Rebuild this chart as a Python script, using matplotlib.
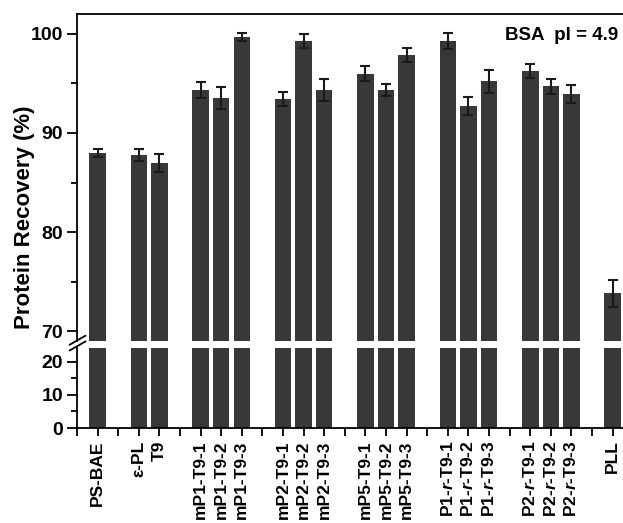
import matplotlib
matplotlib.use("Agg")
import matplotlib.pyplot as plt
import numpy as np

plt.rcParams['font.family'] = ['Liberation Sans', 'DejaVu Sans']
plt.rcParams['font.weight'] = 'bold'
plt.rcParams['mathtext.fontset'] = 'custom'
plt.rcParams['mathtext.it'] = 'Liberation Sans:italic:bold'

# samples, in groups (one empty slot between groups)
groups = [
    ['PS-BAE'],
    ['ε-PL', 'T9'],
    ['mP1-T9-1', 'mP1-T9-2', 'mP1-T9-3'],
    ['mP2-T9-1', 'mP2-T9-2', 'mP2-T9-3'],
    ['mP5-T9-1', 'mP5-T9-2', 'mP5-T9-3'],
    ['P1-$\\it{r}$-T9-1', 'P1-$\\it{r}$-T9-2', 'P1-$\\it{r}$-T9-3'],
    ['P2-$\\it{r}$-T9-1', 'P2-$\\it{r}$-T9-2', 'P2-$\\it{r}$-T9-3'],
    ['PLL'],
]
recovery = [88.0, 87.8, 87.0, 94.3, 93.5, 99.7, 93.4, 99.3, 94.3,
            96.0, 94.3, 97.9, 99.3, 92.7, 95.2, 96.3, 94.7, 93.9, 73.8]
errors = [0.4, 0.6, 0.9, 0.8, 1.1, 0.4, 0.7, 0.7, 1.1,
          0.8, 0.6, 0.7, 0.8, 0.9, 1.2, 0.7, 0.8, 0.9, 1.4]

labels, xpos = [], []
slot = 1
for g in groups:
    for name in g:
        labels.append(name)
        xpos.append(slot)
        slot += 1
    slot += 1
n_slots = xpos[-1]

bar_color = '#383838'
fig = plt.figure(figsize=(6.23, 5.23), dpi=100)
ax_top = fig.add_axes([0.1236, 0.348, 0.8764, 0.625])
ax_bot = fig.add_axes([0.1236, 0.1816, 0.8764, 0.153])

for ax in (ax_top, ax_bot):
    ax.bar(xpos, recovery, width=0.8, color=bar_color, zorder=2)
    ax.set_xlim(0, n_slots + 0.5)
    ax.spines['right'].set_visible(False)
    for s in ('left', 'top', 'bottom'):
        ax.spines[s].set_linewidth(1.3)
    ax.tick_params(axis='y', which='major', direction='out', length=7, width=1.3,
                   labelsize=14, pad=3)
    ax.tick_params(axis='y', which='minor', direction='out', length=4, width=1.3)

ax_top.errorbar(xpos, recovery, yerr=errors, fmt='none', ecolor='#1a1a1a',
                elinewidth=1.5, capsize=3.5, capthick=1.5, zorder=3)

ax_top.set_ylim(69, 102)
ax_top.set_yticks([70, 80, 90, 100])
ax_top.set_yticks([75, 85, 95], minor=True)
ax_top.spines['bottom'].set_visible(False)
ax_top.tick_params(axis='x', bottom=False, labelbottom=False)

ax_bot.set_ylim(0, 24.2)
ax_bot.set_yticks([0, 10, 20])
ax_bot.set_yticks([5, 15], minor=True)
ax_bot.spines['top'].set_visible(False)
ax_bot.set_xticks(range(0, n_slots + 1))
tick_text = [''] * (n_slots + 1)
for name, x in zip(labels, xpos):
    tick_text[x] = name
ax_bot.set_xticklabels(tick_text, rotation=90, fontsize=12.5, fontweight='bold')
ax_bot.tick_params(axis='x', direction='out', length=6, width=1.3, pad=3)

# break marks on the y axis
for dy in (0.0, 0.011):
    fig.add_artist(plt.Line2D([0.112, 0.137], [0.330 + dy, 0.347 + dy],
                              color='black', lw=1.3))

fig.text(0.039, 0.584, 'Protein Recovery (%)', rotation=90, ha='center',
         va='center', fontsize=16, fontweight='bold')
ax_top.text(0.992, 0.935, 'BSA  pI = 4.9', transform=ax_top.transAxes,
            ha='right', va='center', fontsize=13.5, fontweight='bold')

fig.savefig('out.png', dpi=100)
